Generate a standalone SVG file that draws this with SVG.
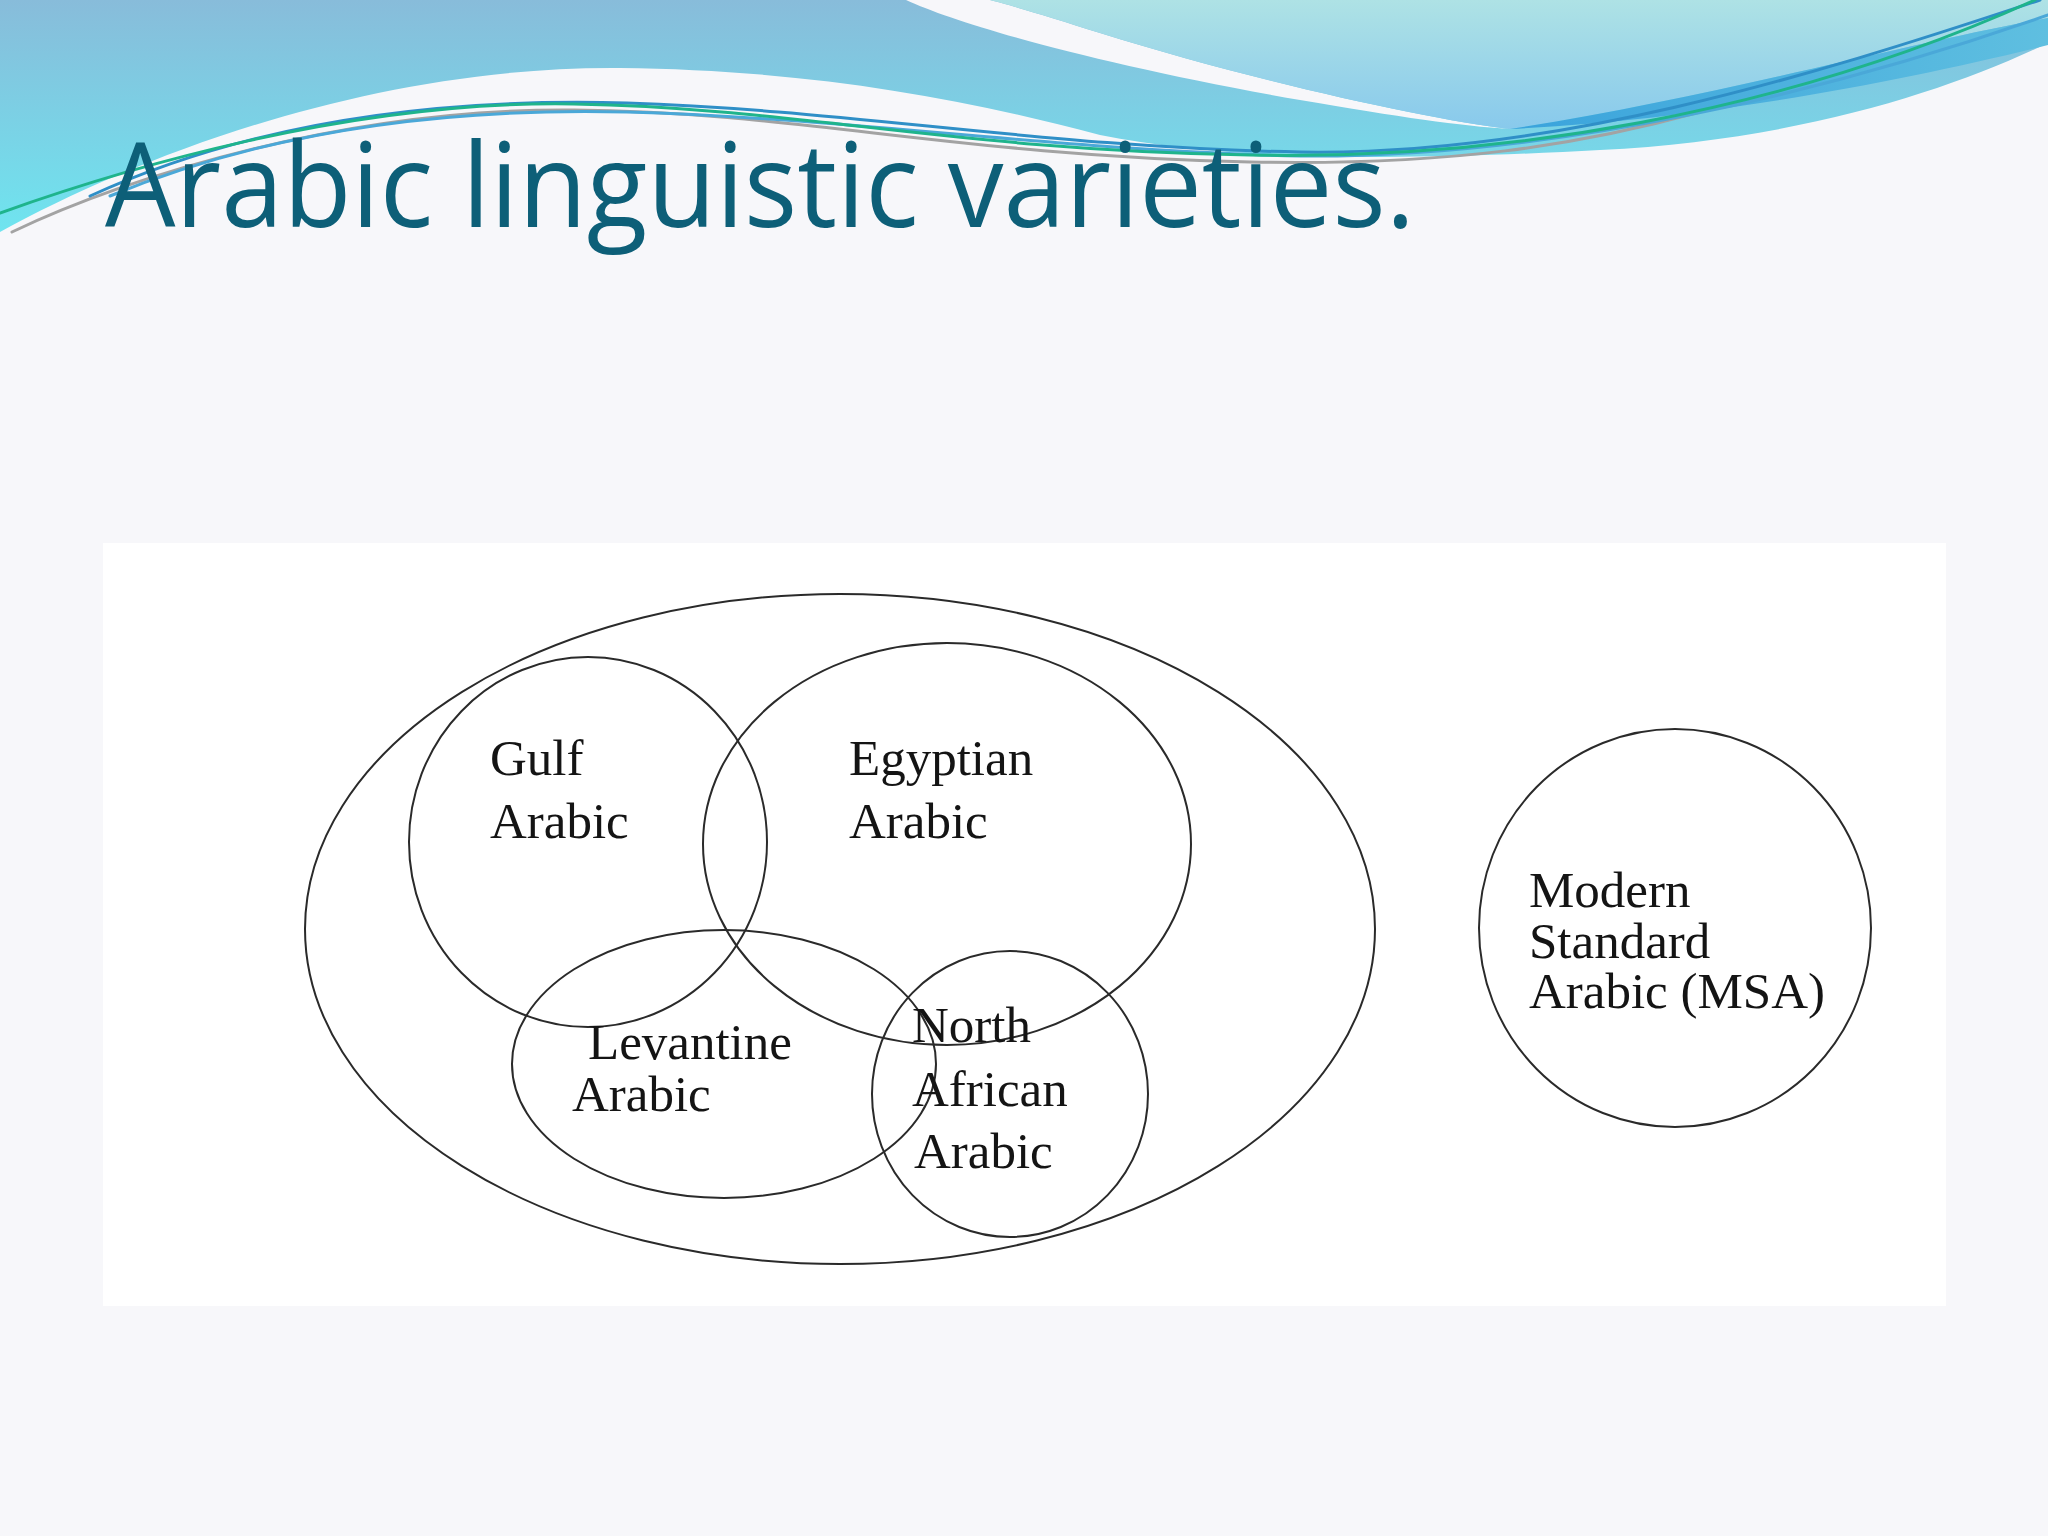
<svg xmlns="http://www.w3.org/2000/svg" width="2048" height="1536" viewBox="0 0 2048 1536">
  <defs>
    <linearGradient id="gA" gradientUnits="userSpaceOnUse" x1="0" y1="0" x2="0" y2="230">
      <stop offset="0" stop-color="#88bcda"/>
      <stop offset="1" stop-color="#6fe4ef"/>
    </linearGradient>
    <linearGradient id="gD" gradientUnits="userSpaceOnUse" x1="0" y1="0" x2="0" y2="130">
      <stop offset="0" stop-color="#aee2e5"/>
      <stop offset="1" stop-color="#88c9ec"/>
    </linearGradient>
    <linearGradient id="gE" gradientUnits="userSpaceOnUse" x1="1510" y1="0" x2="2048" y2="0">
      <stop offset="0" stop-color="#3aa3dc"/>
      <stop offset="1" stop-color="#5fbfe0"/>
    </linearGradient>
    <style>
      .set { fill: none; stroke: #2a2a2a; stroke-width: 2; }
      .lbl { font-family: "Liberation Serif", "Times New Roman", serif; font-size: 51px; fill: #141414; }
      .title { font-family: "Open Sans", "Noto Sans", sans-serif; font-size: 118px; fill: #0d5f78; }
      .wline { fill: none; stroke-width: 3; stroke-linecap: round; }
    </style>
  </defs>

  <rect x="0" y="0" width="2048" height="1536" fill="#f7f7fa"/>

  <g id="header">
    <path d="M0,232 C150,150 380,66 620,68 C800,70 950,95 1100,135 C1250,165 1450,158 1600,150 C1800,140 1950,90 2048,43 V0 H0 Z" fill="url(#gA)"/>
    <path d="M906,0 C960,25 1100,65 1300,100 C1400,117 1460,126 1510,129 C1430,120 1250,80 1100,33 C1050,17 1010,5 990,0 Z" fill="#f7f7fa"/>
    <path d="M990,0 H2048 V18 C1900,45 1700,100 1510,129 C1430,120 1250,80 1100,33 C1050,17 1010,5 990,0 Z" fill="url(#gD)"/>
    <path d="M2048,18 C1900,45 1700,100 1510,129 C1700,120 1900,82 2048,45 Z" fill="url(#gE)"/>
    <path class="wline" d="M12,232 C130,175 350,108 574,110 C800,112 950,155 1250,162 C1450,166 1580,145 1700,112" stroke="#a3a3a3"/>
    <path class="wline" d="M110,196 C280,126 460,108 627,112 C850,118 1050,150 1300,156 C1550,158 1820,95 2048,15" stroke="#4aa8d8"/>
    <path class="wline" d="M90,196 C260,118 450,98 627,103 C850,110 1050,148 1300,152 C1550,156 1800,80 2040,0" stroke="#2f8fc7"/>
    <path class="wline" d="M0,213 C120,170 350,100 574,104 C800,108 950,150 1250,155 C1500,160 1780,115 2035,0" stroke="#1fb48c"/>
  </g>

  <text class="title" x="105" y="227" textLength="1310" lengthAdjust="spacingAndGlyphs">Arabic linguistic varieties.</text>

  <rect x="103" y="543" width="1843" height="763" fill="#ffffff"/>

  <g id="connectors"></g>

  <g id="arabic-varieties">
    <ellipse class="set" cx="840" cy="929" rx="535" ry="335"/>
  </g>
  <g id="gulf-arabic">
    <ellipse class="set" cx="588" cy="842" rx="179" ry="185"/>
    <text class="lbl" x="490" y="775">Gulf</text>
    <text class="lbl" x="490" y="838">Arabic</text>
  </g>
  <g id="egyptian-arabic">
    <ellipse class="set" cx="947" cy="844" rx="244" ry="201"/>
    <text class="lbl" x="849" y="775">Egyptian</text>
    <text class="lbl" x="849" y="838">Arabic</text>
  </g>
  <g id="levantine-arabic">
    <ellipse class="set" cx="724" cy="1064" rx="212" ry="134"/>
    <text class="lbl" x="588" y="1059">Levantine</text>
    <text class="lbl" x="572" y="1111">Arabic</text>
  </g>
  <g id="north-african-arabic">
    <ellipse class="set" cx="1010" cy="1094" rx="138" ry="143"/>
    <text class="lbl" x="912" y="1042">North</text>
    <text class="lbl" x="912" y="1106">African</text>
    <text class="lbl" x="914" y="1168">Arabic</text>
  </g>
  <g id="msa">
    <ellipse class="set" cx="1675" cy="928" rx="196" ry="199"/>
    <text class="lbl" x="1529" y="907">Modern</text>
    <text class="lbl" x="1529" y="958">Standard</text>
    <text class="lbl" x="1529" y="1008">Arabic (MSA)</text>
  </g>
</svg>
